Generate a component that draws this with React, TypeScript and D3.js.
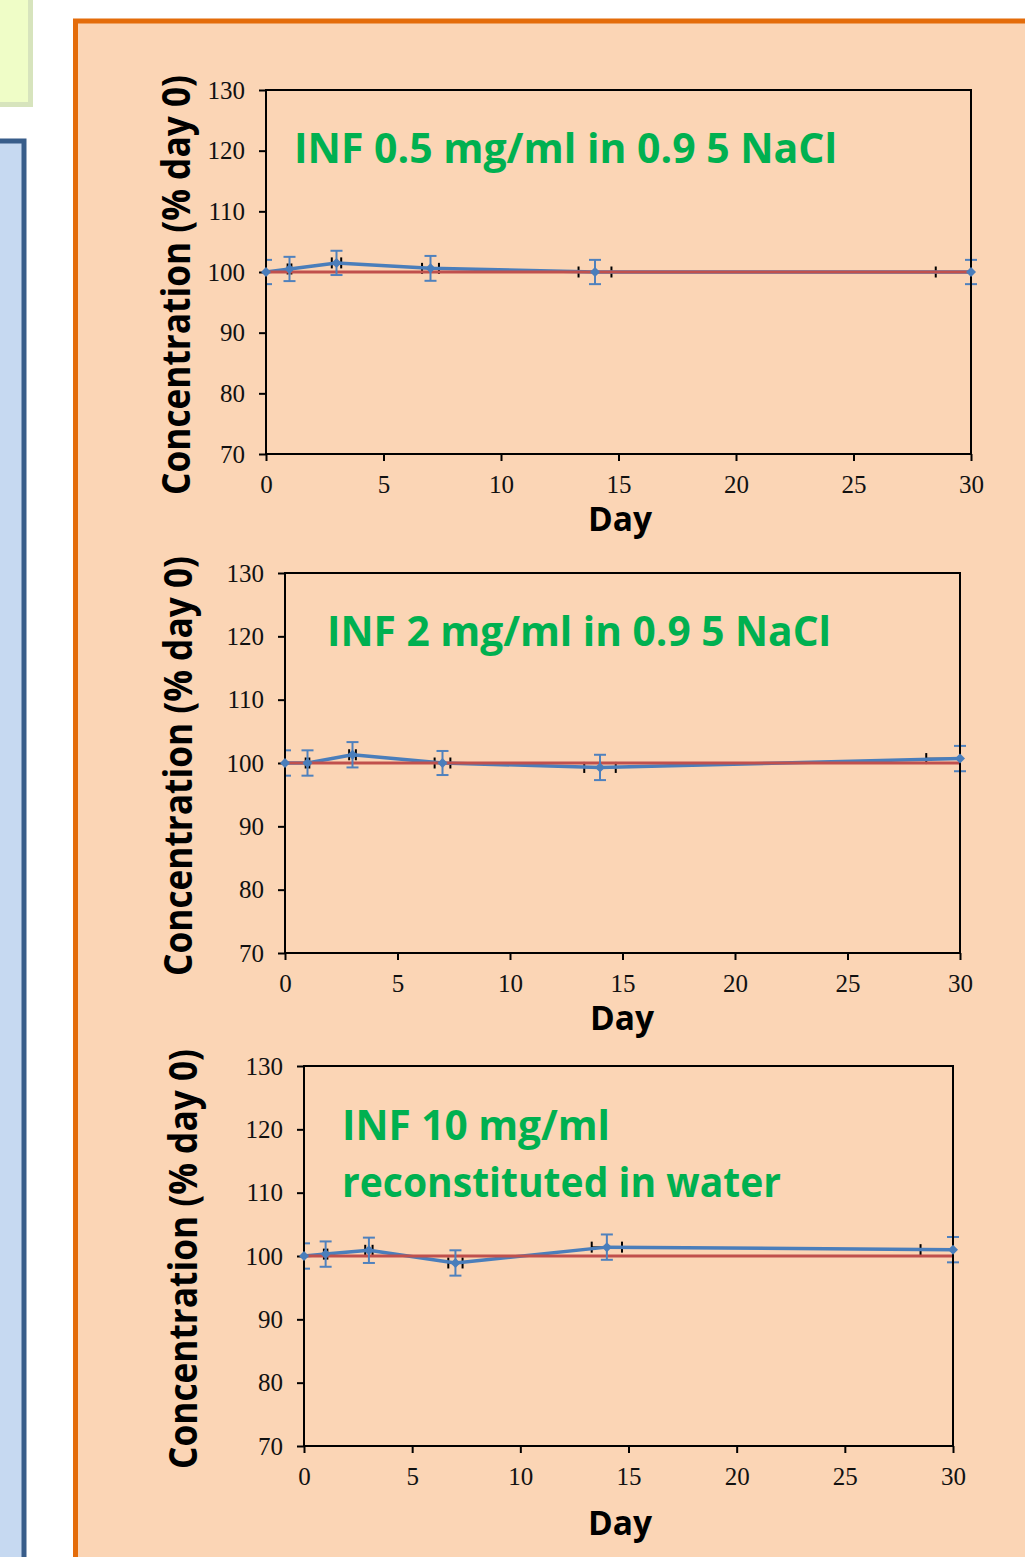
import React, { useRef, useEffect } from 'react'
import * as d3 from 'd3'

// sampling days (x) and measured concentration (% of day 0)
const days = [0, 1, 3, 7, 14, 30]

const conc05 = [100, 100.5, 101.5, 100.6, 100, 100]
const sd05 = [2, 2, 2, 2.05, 2, 2]
const dayErr05 = [0, 0.08, 0.2, 0.36, 0.7, 1.5]

const conc2 = [100, 100, 101.3, 100, 99.3, 100.7]
const sd2 = [2, 2, 2, 1.9, 2, 2]
const dayErr2 = [0, 0.08, 0.15, 0.35, 0.7, 1.5]

const conc10 = [100, 100.3, 100.9, 98.9, 101.4, 101]
const sd10 = [2, 2, 2, 2, 2, 2]
const dayErr10 = [0, 0.08, 0.17, 0.33, 0.7, 1.5]

// 100 % reference line
const refDays = [0, 30]
const refConc = [100, 100]

const xTicks = [0, 5, 10, 15, 20, 25, 30]
const yTicks = [70, 80, 90, 100, 110, 120, 130]

const titles05 = ['INF 0.5 mg/ml in 0.9 5 NaCl']
const titles2 = ['INF 2 mg/ml in 0.9 5 NaCl']
const titles10 = ['INF 10 mg/ml', 'reconstituted in water']

const yLabel = 'Concentration (% day 0)'
const xLabel = 'Day'

const W = 1025
const H = 1557

const panels = [
  {
    conc: conc05, sd: sd05, dayErr: dayErr05, titles: titles05,
    left: 266, right: 971, top: 90, bottom: 454,
    titleX: 294, titleY: [163], titleLen: [543],
    yLabX: 190, yLabY: 285, dayX: 620, dayY: 531
  },
  {
    conc: conc2, sd: sd2, dayErr: dayErr2, titles: titles2,
    left: 285, right: 960, top: 573, bottom: 953,
    titleX: 327, titleY: [646], titleLen: [504],
    yLabX: 192, yLabY: 766, dayX: 622, dayY: 1030
  },
  {
    conc: conc10, sd: sd10, dayErr: dayErr10, titles: titles10,
    left: 304, right: 953, top: 1066, bottom: 1446,
    titleX: 342, titleY: [1140, 1197], titleLen: [268, 439],
    yLabX: 197, yLabY: 1259, dayX: 620, dayY: 1535
  }
]

const App: React.FC = () => {
  const node = useRef<SVGSVGElement | null>(null)

  useEffect(() => {
    const svg = d3.select(node.current)
    svg.selectAll('*').remove()

    // poster background boxes
    svg.append('rect').attr('x', -20).attr('y', -20).attr('width', 50.5).attr('height', 124.5)
      .attr('fill', '#EFFDC7').attr('stroke', '#D7E4BD').attr('stroke-width', 5)
    svg.append('rect').attr('x', -20).attr('y', 141).attr('width', 44).attr('height', 1500)
      .attr('fill', '#C6D9F1').attr('stroke', '#385D8A').attr('stroke-width', 5)
    svg.append('rect').attr('x', 75.5).attr('y', 21).attr('width', 1000).attr('height', 1600)
      .attr('fill', '#FBD5B5').attr('stroke', '#E46C0A').attr('stroke-width', 5)

    panels.forEach((p, i) => {
      const x = d3.scaleLinear().domain([0, 30]).range([p.left, p.right])
      const y = d3.scaleLinear().domain([70, 130]).range([p.bottom, p.top])
      const g = svg.append('g')

      // exact plot area, and one that is only cut at the left axis
      const clipId = `clip${i}`
      const clipWideId = `clipw${i}`
      g.append('clipPath').attr('id', clipId).append('rect')
        .attr('x', p.left).attr('y', p.top).attr('width', p.right - p.left).attr('height', p.bottom - p.top)
      g.append('clipPath').attr('id', clipWideId).append('rect')
        .attr('x', p.left).attr('y', p.top).attr('width', p.right - p.left + 20).attr('height', p.bottom - p.top)

      // axes
      const yAxis = g.append('g').attr('transform', `translate(${p.left},0)`)
        .call(d3.axisLeft(y).tickValues(yTicks).tickSize(7).tickSizeOuter(0).tickPadding(14))
      const xAxis = g.append('g').attr('transform', `translate(0,${p.bottom})`)
        .call(d3.axisBottom(x).tickValues(xTicks).tickSize(7).tickSizeOuter(0).tickPadding(14))
      ;[yAxis, xAxis].forEach((a) => {
        a.select('.domain').remove()
        a.selectAll('line').attr('stroke', '#000').attr('stroke-width', 2)
        a.selectAll('text').attr('font-family', '"Liberation Serif", "Times New Roman", serif')
          .attr('font-size', 25).attr('fill', '#111')
      })

      const pts = days.map((d, k) => ({ day: d, c: p.conc[k], sd: p.sd[k], de: p.dayErr[k] }))

      // horizontal (day) error bars in black
      const xErr = g.append('g').attr('clip-path', `url(#${clipId})`)
      pts.filter((d) => d.de > 0).forEach((d) => {
        const cy = y(d.c)
        xErr.append('line').attr('x1', x(d.day - d.de)).attr('x2', x(d.day + d.de))
          .attr('y1', cy).attr('y2', cy).attr('stroke', '#000').attr('stroke-width', 1.5)
        ;[d.day - d.de, d.day + d.de].forEach((e) => {
          xErr.append('line').attr('x1', x(e)).attr('x2', x(e))
            .attr('y1', cy - 5.5).attr('y2', cy + 5.5).attr('stroke', '#000').attr('stroke-width', 2)
        })
      })

      const line = d3.line<{ day: number; c: number }>().x((d) => x(d.day)).y((d) => y(d.c))

      g.append('path').attr('d', line(pts)).attr('fill', 'none')
        .attr('stroke', '#4A7EBB').attr('stroke-width', 3.5).attr('stroke-linejoin', 'round')

      g.append('path').attr('d', line(refDays.map((d, k) => ({ day: d, c: refConc[k] }))))
        .attr('fill', 'none').attr('stroke', '#C0504D').attr('stroke-width', 3)

      // vertical error bars
      const yErr = g.append('g').attr('clip-path', `url(#${clipWideId})`)
      pts.forEach((d) => {
        const cx = x(d.day)
        const y0 = y(d.c - d.sd)
        const y1 = y(d.c + d.sd)
        yErr.append('line').attr('x1', cx).attr('x2', cx).attr('y1', y0).attr('y2', y1)
          .attr('stroke', '#4F81BD').attr('stroke-width', 2)
        ;[y0, y1].forEach((yy) => {
          yErr.append('line').attr('x1', cx - 6).attr('x2', cx + 6).attr('y1', yy).attr('y2', yy)
            .attr('stroke', '#4F81BD').attr('stroke-width', 2)
        })
      })

      // plot frame
      g.append('rect').attr('x', p.left).attr('y', p.top)
        .attr('width', p.right - p.left).attr('height', p.bottom - p.top)
        .attr('fill', 'none').attr('stroke', '#000').attr('stroke-width', 2)

      // diamond markers
      g.selectAll('path.mark').data(pts).join('path').attr('class', 'mark')
        .attr('d', d3.symbol(d3.symbolSquare, 50)())
        .attr('transform', (d) => `translate(${x(d.day)},${y(d.c)}) rotate(45)`)
        .attr('fill', '#4A7EBB')

      // title inside plot
      p.titles.forEach((t, k) => {
        g.append('text').attr('x', p.titleX).attr('y', p.titleY[k])
          .attr('font-family', '"Open Sans", sans-serif').attr('font-weight', 700)
          .attr('font-size', 41).attr('fill', '#00B050')
          .attr('textLength', p.titleLen[k]).attr('lengthAdjust', 'spacingAndGlyphs')
          .text(t)
      })

      // axis titles
      g.append('text').attr('transform', `translate(${p.yLabX},${p.yLabY}) rotate(-90)`)
        .attr('text-anchor', 'middle')
        .attr('font-family', '"Open Sans", sans-serif').attr('font-weight', 700)
        .attr('font-size', 40).attr('fill', '#000')
        .attr('textLength', 420).attr('lengthAdjust', 'spacingAndGlyphs')
        .text(yLabel)

      g.append('text').attr('x', p.dayX).attr('y', p.dayY)
        .attr('text-anchor', 'middle')
        .attr('font-family', '"Open Sans", sans-serif').attr('font-weight', 700)
        .attr('font-size', 34).attr('fill', '#000')
        .attr('textLength', 64).attr('lengthAdjust', 'spacingAndGlyphs')
        .text(xLabel)
    })
  }, [node])

  return (
    <div style={{ position: 'absolute', left: 0, top: 0 }}>
      <svg ref={node} width={W} height={H} style={{ display: 'block' }}></svg>
    </div>
  )
}

export default App
